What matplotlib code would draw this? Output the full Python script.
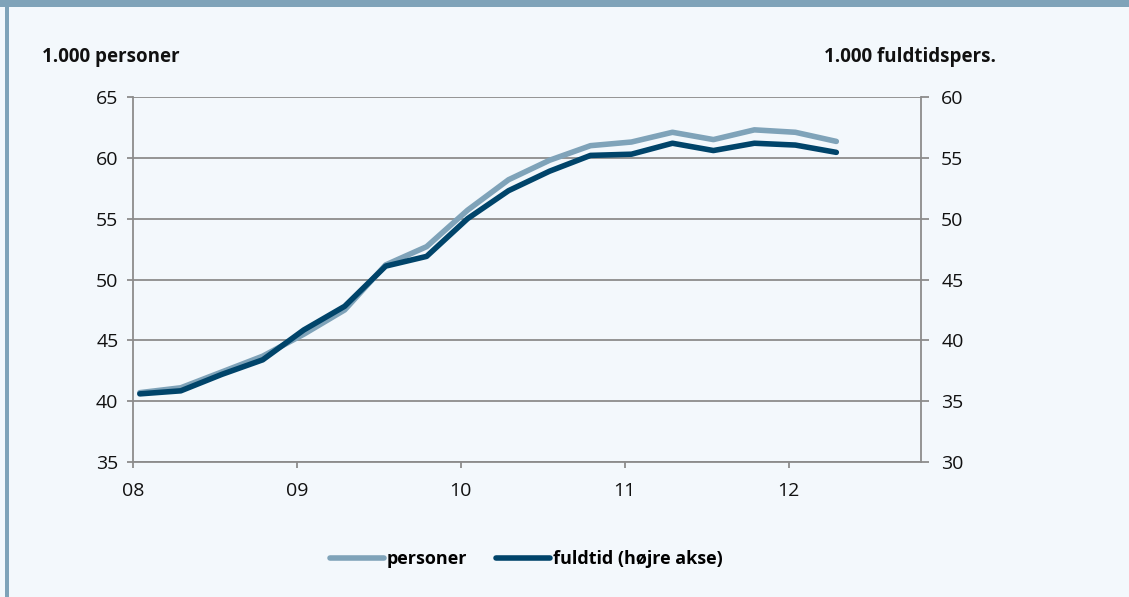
import matplotlib.pyplot as plt
import matplotlib.patches as mpatches

# quarterly observations 2008K1 - 2012K2
quarters = ["08K1", "08K2", "08K3", "08K4", "09K1", "09K2", "09K3", "09K4",
            "10K1", "10K2", "10K3", "10K4", "11K1", "11K2", "11K3", "11K4",
            "12K1", "12K2"]
personer = [40.7, 41.1, 42.4, 43.7, 45.5, 47.5, 51.2, 52.7, 55.7, 58.2,
            59.8, 61.0, 61.3, 62.1, 61.5, 62.3, 62.1, 61.35]
fuldtid = [35.6, 35.85, 37.2, 38.4, 40.85, 42.8, 46.1, 46.9, 50.0, 52.3,
           53.9, 55.2, 55.3, 56.2, 55.6, 56.2, 56.05, 55.45]
year_labels = ["08", "09", "10", "11", "12"]
left_ticks = [35, 40, 45, 50, 55, 60, 65]
right_ticks = [30, 35, 40, 45, 50, 55, 60]

BG = "#F3F8FC"
FRAME = "#7FA3B9"
LIGHT = "#7FA3B9"
DARK = "#00446A"
GRID = "#8C8C8C"

plt.rcParams['font.family'] = ['Open Sans', 'DejaVu Sans']

fig = plt.figure(figsize=(11.29, 5.97), dpi=100, facecolor=BG)
fig.patches.append(mpatches.Rectangle((0, 1 - 7 / 597), 1, 7 / 597, transform=fig.transFigure,
                                      facecolor=FRAME, edgecolor='none'))
fig.patches.append(mpatches.Rectangle((5 / 1129, 0), 4 / 1129, 1, transform=fig.transFigure,
                                      facecolor=FRAME, edgecolor='none'))

ax = fig.add_axes([133 / 1129, 1 - 462 / 597, (921 - 133) / 1129, (462 - 97) / 597])
ax.set_facecolor(BG)
ax2 = ax.twinx()

# months from Jan 2008, each quarter point sits in the middle of its first month
x = [3 * i + 0.5 for i in range(len(quarters))]

l1, = ax.plot(x, personer, color=LIGHT, lw=4.0, solid_capstyle='round', label='personer', zorder=3)
l2, = ax2.plot(x, fuldtid, color=DARK, lw=4.0, solid_capstyle='round', label='fuldtid (højre akse)', zorder=4)

ax.set_xlim(0, 57.7)
ax.set_ylim(35, 65)
ax2.set_ylim(30, 60)
ax.set_xticks([12 * i for i in range(len(year_labels))])
ax.set_xticklabels(year_labels)
ax.set_yticks(left_ticks)
ax2.set_yticks(right_ticks)

ax.grid(axis='y', color=GRID, lw=1.3)
ax.set_axisbelow(True)
for a in (ax, ax2):
    for s in a.spines.values():
        s.set_visible(False)
for a, side in ((ax, 'left'), (ax, 'bottom'), (ax2, 'right')):
    a.spines[side].set_visible(True)
    a.spines[side].set_color(GRID)
    a.spines[side].set_linewidth(1.3)

ax.tick_params(axis='both', length=4.5, width=1.3, color=GRID, labelsize=14, labelcolor='#111111')
ax.tick_params(axis='y', pad=6)
ax.tick_params(axis='x', pad=10)
ax2.tick_params(axis='y', length=5.5, width=1.3, color=GRID, labelsize=14, labelcolor='#111111', pad=9)

fig.text(42 / 1129, 1 - 57 / 597, "1.000 personer", fontsize=13.5, fontweight='bold',
         color='#111111', va='center', ha='left')
fig.text(996 / 1129, 1 - 57 / 597, "1.000 fuldtidspers.", fontsize=13.5, fontweight='bold',
         color='#111111', va='center', ha='right')

fig.legend(handles=[l1, l2], loc='center', bbox_to_anchor=(526 / 1129, 1 - 559 / 597),
           ncol=2, frameon=False, prop={'weight': 'bold', 'size': 13},
           handlelength=3.0, handletextpad=0.15, columnspacing=1.6)

fig.savefig('out.png', dpi=100, facecolor=BG)
